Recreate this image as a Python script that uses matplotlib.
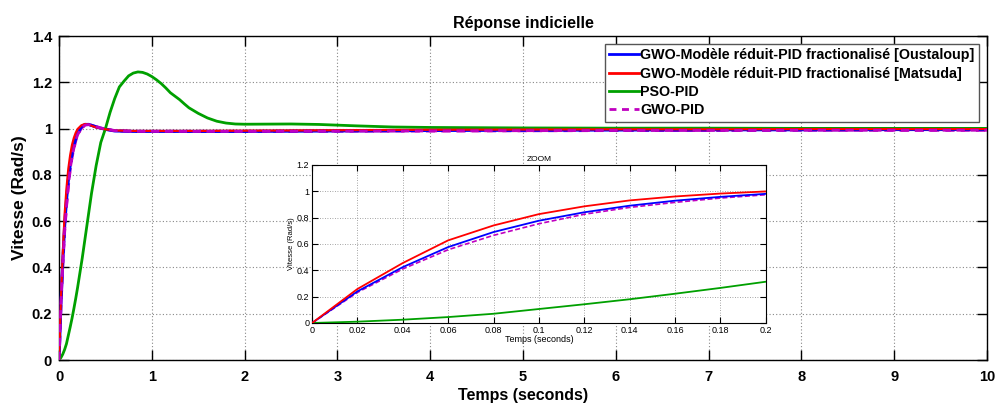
import matplotlib
matplotlib.use("Agg")
import matplotlib.pyplot as plt
from matplotlib.lines import Line2D

plt.rcParams['font.family'] = ['Liberation Sans', 'DejaVu Sans']

# ---------------- data ----------------
labels = ["GWO-Modèle réduit-PID fractionalisé [Oustaloup]",
          "GWO-Modèle réduit-PID fractionalisé [Matsuda]",
          "PSO-PID",
          "GWO-PID"]

t_fast = [0, 0.02, 0.04, 0.06, 0.08, 0.1, 0.12, 0.14, 0.16, 0.18, 0.2,
          0.24, 0.28, 0.32, 0.36, 0.4, 0.5, 0.6, 0.8, 1.0, 1.5, 2, 3, 4, 5,
          6, 7, 8, 9, 10]
y_oustaloup = [0, 0.24, 0.424, 0.576, 0.69, 0.776, 0.84, 0.89, 0.928, 0.957, 0.98,
               1.008, 1.018, 1.018, 1.013, 1.007, 0.997, 0.990, 0.988, 0.988,
               0.988, 0.988, 0.990, 0.992, 0.993, 0.994, 0.995, 0.995, 0.996, 0.996]
y_matsuda = [0, 0.258, 0.455, 0.627, 0.74, 0.826, 0.885, 0.93, 0.96, 0.982, 0.998,
             1.014, 1.02, 1.017, 1.011, 1.005, 0.997, 0.992, 0.990, 0.990,
             0.990, 0.991, 0.993, 0.995, 0.996, 0.997, 0.997, 0.998, 0.998, 0.998]
y_gwo = [0, 0.232, 0.41, 0.556, 0.665, 0.753, 0.825, 0.877, 0.915, 0.948, 0.973,
         1.002, 1.015, 1.017, 1.013, 1.008, 0.998, 0.991, 0.988, 0.988,
         0.988, 0.988, 0.989, 0.990, 0.991, 0.992, 0.992, 0.993, 0.993, 0.993]

t_pso = [0, 0.02, 0.04, 0.06, 0.08, 0.1, 0.12, 0.14, 0.16, 0.18, 0.2, 0.25,
         0.3, 0.35, 0.4, 0.45, 0.5, 0.55, 0.6, 0.65, 0.7, 0.75, 0.8, 0.85,
         0.9, 0.95, 1.0, 1.05, 1.1, 1.15, 1.2, 1.25, 1.3, 1.35, 1.4, 1.45, 1.5,
         1.6, 1.7, 1.8, 1.9, 2.0, 2.5, 2.8, 3.2, 3.6, 4, 5, 6, 7, 8, 9, 10]
y_pso = [0, 0.01, 0.025, 0.045, 0.07, 0.106, 0.142, 0.18, 0.222, 0.266, 0.313, 0.44,
         0.58, 0.72, 0.84, 0.94, 1.0, 1.07, 1.13, 1.18, 1.205, 1.228, 1.24, 1.245,
         1.243, 1.236, 1.225, 1.211, 1.195, 1.176, 1.155, 1.14, 1.125, 1.107, 1.09,
         1.078, 1.066, 1.046, 1.032, 1.024, 1.02, 1.019, 1.02, 1.018, 1.012, 1.007,
         1.005, 1.003, 1.002, 1.002, 1.001, 1.001, 1.001]

xticks_main = [0, 1, 2, 3, 4, 5, 6, 7, 8, 9, 10]
yticks_main = [0, 0.2, 0.4, 0.6, 0.8, 1.0, 1.2, 1.4]
ytick_labels_main = ["0", "0.2", "0.4", "0.6", "0.8", "1", "1.2", "1.4"]
xticks_zoom = [0, 0.02, 0.04, 0.06, 0.08, 0.1, 0.12, 0.14, 0.16, 0.18, 0.2]
xtick_labels_zoom = ["0", "0.02", "0.04", "0.06", "0.08", "0.1", "0.12", "0.14",
                     "0.16", "0.18", "0.2"]
yticks_zoom = [0, 0.2, 0.4, 0.6, 0.8, 1.0, 1.2]
ytick_labels_zoom = ["0", "0.2", "0.4", "0.6", "0.8", "1", "1.2"]

c_blue = "#0000ff"
c_red = "#ff0000"
c_green = "#00a000"
c_mag = "#c000c0"

# ---------------- figure ----------------
fig = plt.figure(figsize=(9.97, 4.05), dpi=100)
fig.patch.set_facecolor("white")
ax = fig.add_axes([0.0592, 0.111, 0.9308, 0.8])

ax.plot(t_fast, y_gwo, color=c_mag, lw=2.2, ls=(0, (3, 2)), zorder=2)
ax.plot(t_fast, y_oustaloup, color=c_blue, lw=2.2, zorder=3)
ax.plot(t_fast, y_matsuda, color=c_red, lw=1.6, zorder=4)
ax.plot(t_pso, y_pso, color=c_green, lw=2.0, zorder=3)
ax.plot(t_fast, y_gwo, color=c_mag, lw=2.0, ls=(0, (3, 2)), zorder=5)

ax.set_xlim(0, 10)
ax.set_ylim(0, 1.4)
ax.set_xticks(xticks_main)
ax.set_yticks(yticks_main)
ax.set_yticklabels(ytick_labels_main)
ax.grid(True, color="#888888", ls=(0, (1, 2)), lw=0.8)
ax.tick_params(direction="in", length=7, width=1.0, top=True, right=True,
               labelsize=10.5)
ax.tick_params(axis="x", pad=7)
ax.tick_params(axis="y", pad=5)
for lab in ax.get_xticklabels() + ax.get_yticklabels():
    lab.set_fontweight("bold")
for s in ax.spines.values():
    s.set_linewidth(1.0)
ax.set_xlabel("Temps (seconds)", fontsize=11.5, fontweight="bold", labelpad=3)
ax.set_ylabel("Vitesse (Rad/s)", fontsize=12.5, fontweight="bold", labelpad=3)
ax.set_title("Réponse indicielle", fontsize=11.5, fontweight="bold", pad=6)

handles = [Line2D([], [], color=c_blue, lw=2),
           Line2D([], [], color=c_red, lw=2),
           Line2D([], [], color=c_green, lw=2),
           Line2D([], [], color=c_mag, lw=2, ls=(0, (2.5, 2)))]
leg = ax.legend(handles, labels, loc="upper right", bbox_to_anchor=(0.991, 0.975),
                borderaxespad=0, fancybox=False, framealpha=1, edgecolor="#555555",
                prop={"size": 10.3, "weight": "bold"}, handlelength=2.1,
                handletextpad=0.05, labelspacing=0.3, borderpad=0.3)
leg.get_frame().set_linewidth(1.0)

# ---------------- inset ----------------
axi = fig.add_axes([0.313, 0.2025, 0.455, 0.3905])
axi.plot(t_fast, y_gwo, color=c_mag, lw=1.2, ls=(0, (3, 1.5)), zorder=2)
axi.plot(t_fast, y_oustaloup, color=c_blue, lw=1.3, zorder=3)
axi.plot(t_fast, y_matsuda, color=c_red, lw=1.3, zorder=4)
axi.plot(t_pso, y_pso, color=c_green, lw=1.3, zorder=3)
axi.set_xlim(0, 0.2)
axi.set_ylim(0, 1.2)
axi.set_xticks(xticks_zoom)
axi.set_xticklabels(xtick_labels_zoom)
axi.set_yticks(yticks_zoom)
axi.set_yticklabels(ytick_labels_zoom)
axi.grid(True, color="#888888", ls=(0, (1, 2)), lw=0.6)
axi.tick_params(direction="in", length=4, width=0.8, top=True, right=True,
                labelsize=6.5, pad=2)
axi.set_xlabel("Temps (seconds)", fontsize=6.5, labelpad=0)
axi.set_ylabel("Vitesse (Rad/s)", fontsize=5.5, labelpad=1)
axi.set_title("ZOOM", fontsize=6, pad=3)

fig.savefig("out.png", dpi=100, facecolor="white")
